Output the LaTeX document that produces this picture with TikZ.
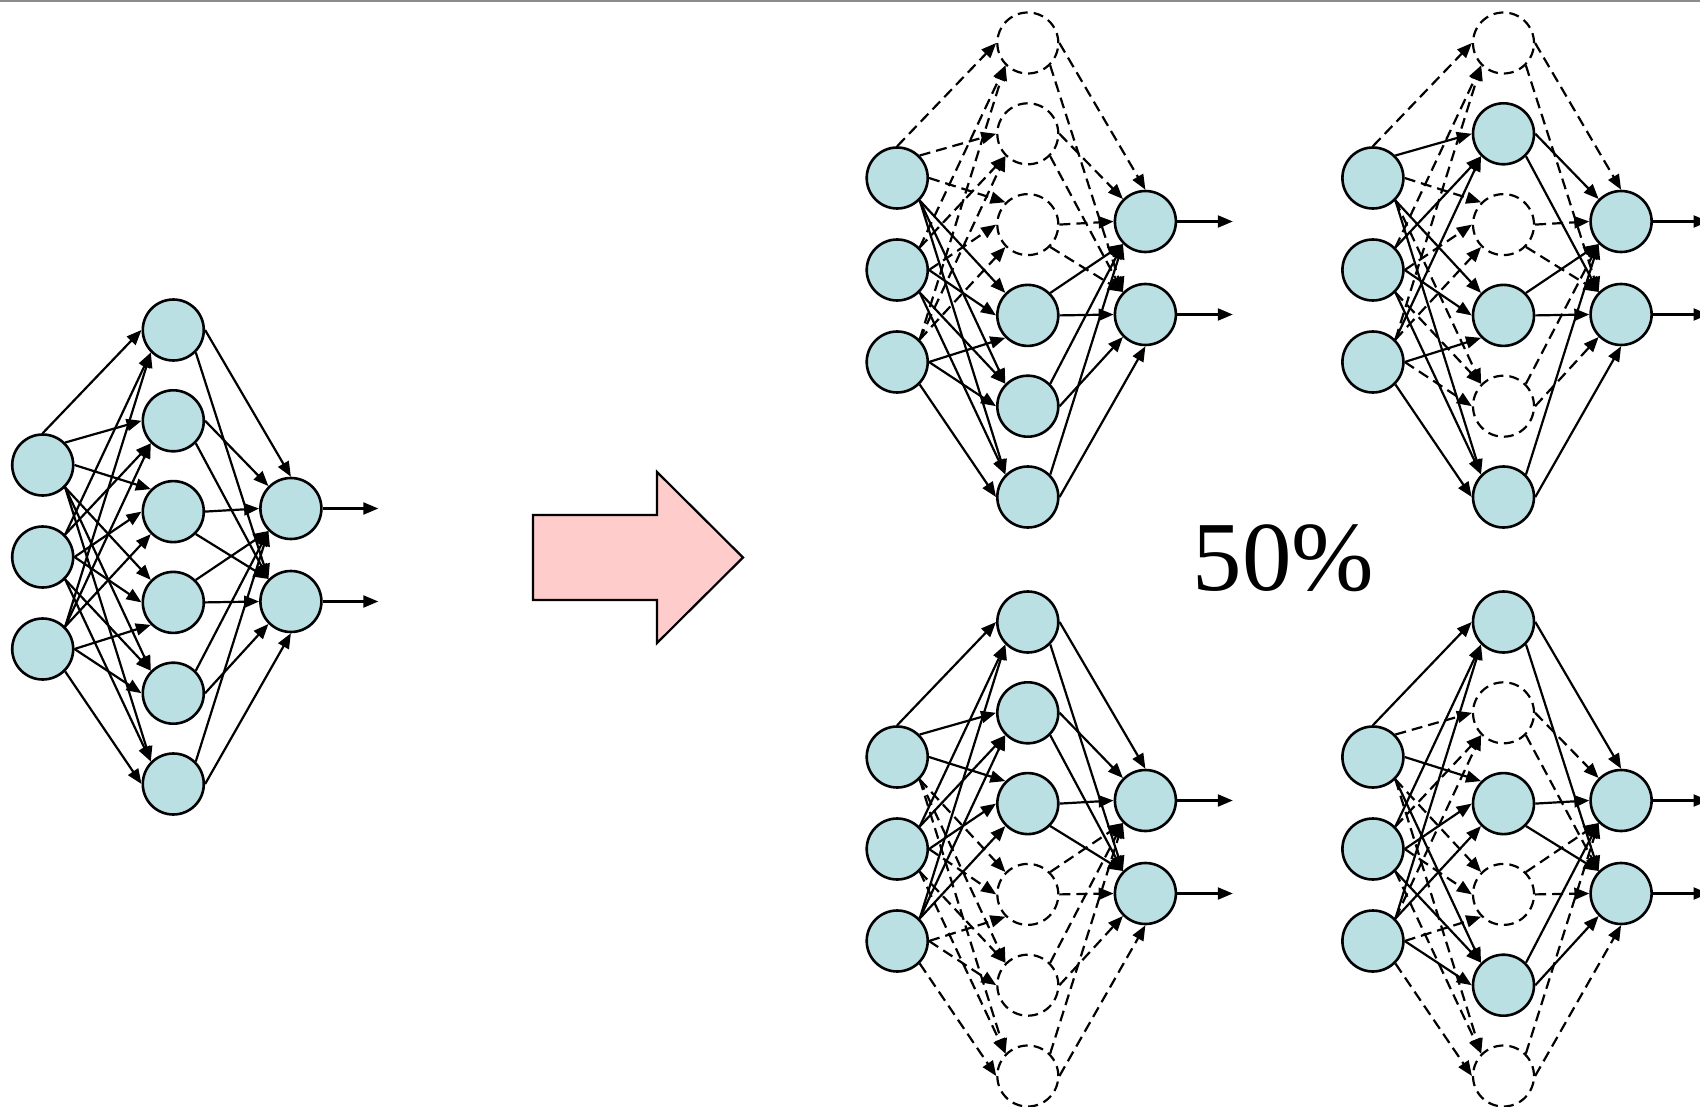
\documentclass[tikz,border=0pt]{standalone}
\usepackage{fontspec}
\setmainfont{Liberation Serif}
\usetikzlibrary{arrows.meta}
\definecolor{nodefill}{RGB}{187,224,228}
\definecolor{pinkfill}{RGB}{255,204,204}
\definecolor{topline}{RGB}{140,140,140}
\tikzset{
  inode/.style={circle, draw=black, line width=2.6pt, fill=nodefill, minimum size=61pt, inner sep=0pt},
  hA/.style={inode},
  hD/.style={circle, draw=black, line width=2.2pt, dash pattern=on 10pt off 6pt, fill=white, minimum size=61pt, inner sep=0pt},
  conn/.style={line width=2.2pt, -{Triangle[length=15pt,width=12pt]}},
  eA/.style={conn},
  eD/.style={conn, dash pattern=on 11pt off 6pt},
}
% source/anchor/target/anchor/hidden index
\newcommand\myedges{%
  i1/north/h1/west/1,
  i1/north east/h2/west/2,
  i1/east/h3/north west/3,
  i1/south east/h4/north west/4,
  i1/south east/h5/north west/5,
  i1/south east/h6/north west/6,
  i2/north east/h1/south west/1,
  i2/north east/h2/south west/2,
  i2/east/h3/west/3,
  i2/east/h4/west/4,
  i2/south east/h5/north west/5,
  i2/south east/h6/north west/6,
  i3/north east/h1/south west/1,
  i3/north east/h2/south west/2,
  i3/north east/h3/south west/3,
  i3/east/h4/south west/4,
  i3/east/h5/west/5,
  i3/south east/h6/west/6,
  h1/east/o1/north/1,
  h1/south east/o2/north west/1,
  h2/east/o1/north west/2,
  h2/south east/o2/north west/2,
  h3/east/o1/west/3,
  h3/south east/o2/north west/3,
  h4/north east/o1/south west/4,
  h4/east/o2/west/4,
  h5/north east/o1/south west/5,
  h5/east/o2/south west/5,
  h6/north east/o1/south west/6,
  h6/east/o2/south/6}
% #1 prefix, #2 hidden column x, #3 centre y, #4 list index/nodestyle/edgestyle
\newcommand\mynet[4]{%
  \foreach \k in {1,2,3} \node[inode] (#1i\k) at ({#2-130.6},{#3+(\k-2)*92}) {};
  \foreach \k in {1,2} \node[inode] (#1o\k) at ({#2+117.6},{#3-2+(\k-1.5)*93}) {};
  \foreach \k/\ns/\es in {#4} {
    \node[\ns] (#1h\k) at (#2,{#3+(\k-3.5)*90.8}) {};
    \expandafter\xdef\csname st#1\k\endcsname{\es}%
  }
  \foreach \a/\sa/\b/\tb/\h in \myedges {
    \edef\es{\csname st#1\h\endcsname}%
    \draw[\es] (#1\a.\sa) -- (#1\b.\tb);
  }
  \foreach \k in {1,2} {
    \coordinate (#1e\k) at ({#2+205},{#3-2+(\k-1.5)*93});
    \draw[conn] (#1o\k) -- (#1e\k);
  }
}
\begin{document}
\begin{tikzpicture}[x=1pt,y=-1pt]
\useasboundingbox (0,0) rectangle (1700,1107);
\fill[white] (0,0) rectangle (1700,1107);
\draw[topline, line width=2pt] (0,1) -- (1700,1);

\mynet{L}{173.3}{557}{1/hA/eA,2/hA/eA,3/hA/eA,4/hA/eA,5/hA/eA,6/hA/eA}
\mynet{TL}{1027.8}{270}{1/hD/eD,2/hD/eD,3/hD/eD,4/hA/eA,5/hA/eA,6/hA/eA}
\mynet{TR}{1503.5}{270}{1/hD/eD,2/hA/eA,3/hD/eD,4/hA/eA,5/hD/eD,6/hA/eA}
\mynet{BL}{1027.8}{849}{1/hA/eA,2/hA/eA,3/hA/eA,4/hD/eD,5/hD/eD,6/hD/eD}
\mynet{BR}{1503.5}{849}{1/hA/eA,2/hD/eD,3/hA/eA,4/hD/eD,5/hA/eA,6/hD/eD}

\draw[line width=2.2pt, fill=pinkfill, line join=miter]
  (533,515) -- (657,515) -- (657,472) -- (743,557.5) -- (657,643) -- (657,600) -- (533,600) -- cycle;

\node[anchor=base, font=\fontsize{99}{99}\selectfont, inner sep=0pt] (pct) at (1283.5,590) {50\%};
\end{tikzpicture}
\end{document}
